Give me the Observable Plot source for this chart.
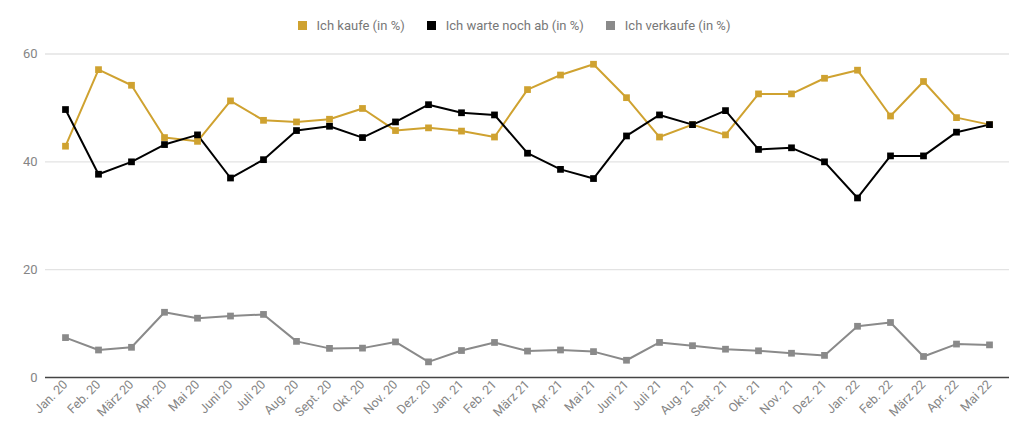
<!DOCTYPE html>
<html>
<head>
<meta charset="utf-8">
<script src="https://cdn.jsdelivr.net/npm/d3@7"></script>
<script src="https://cdn.jsdelivr.net/npm/@observablehq/plot@0.6"></script>
<style>
  html, body { margin: 0; padding: 0; background: #fff; }
  body { width: 1024px; height: 438px; overflow: hidden; font-family: Roboto, "Noto Sans", sans-serif; }
  #legend { height: 40px; display: flex; justify-content: center; align-items: center; gap: 22px; font-size: 13px; color: #777; padding-top: 10px; box-sizing: border-box; padding-left: 4px; }
  #legend .item { display: flex; align-items: center; gap: 10px; }
  #legend .sw { width: 9px; height: 9px; display: inline-block; }
</style>
</head>
<body>
<div id="legend"></div>
<div id="chart"></div>
<script>
const months = ["Jan. 20","Feb. 20","März 20","Apr. 20","Mai 20","Juni 20","Juli 20","Aug. 20","Sept. 20","Okt. 20","Nov. 20","Dez. 20",
  "Jan. 21","Feb. 21","März 21","Apr. 21","Mai 21","Juni 21","Juli 21","Aug. 21","Sept. 21","Okt. 21","Nov. 21","Dez. 21",
  "Jan. 22","Feb. 22","März 22","Apr. 22","Mai 22"];
const kaufe = [42.9,57.1,54.2,44.5,43.8,51.3,47.7,47.4,47.9,49.9,45.8,46.3,45.7,44.6,53.4,56.1,58.1,51.9,44.6,46.9,45.0,52.6,52.6,55.5,57.0,48.5,54.9,48.2,46.9];
const warte = [49.7,37.7,40.0,43.2,45.0,37.0,40.4,45.8,46.6,44.5,47.4,50.6,49.1,48.7,41.6,38.6,36.9,44.8,48.7,46.9,49.5,42.3,42.6,40.0,33.3,41.1,41.1,45.5,46.9];
const verkaufe = [7.4,5.1,5.6,12.1,11.0,11.4,11.7,6.7,5.4,5.45,6.6,2.9,5.0,6.5,4.9,5.1,4.8,3.2,6.5,5.9,5.25,4.95,4.5,4.1,9.5,10.2,3.9,6.2,6.05];
const seriesNames = ["Ich kaufe (in %)","Ich warte noch ab (in %)","Ich verkaufe (in %)"];
const seriesColors = ["#cfa230","#000000","#8a8a8a"];
const yTicks = [0,20,40,60];

const seriesValues = [kaufe, warte, verkaufe];
const data = seriesNames.flatMap((s, i) => months.map((m, j) => ({series: s, month: m, value: seriesValues[i][j]})));

// legend
const legend = document.getElementById("legend");
seriesNames.forEach((s, i) => {
  const it = document.createElement("span");
  it.className = "item";
  it.innerHTML = `<span class="sw" style="background:${seriesColors[i]}"></span><span>${s}</span>`;
  legend.appendChild(it);
});

const chart = Plot.plot({
  width: 1024,
  height: 398,
  marginTop: 13.5,
  marginBottom: 61,
  marginLeft: 45,
  marginRight: 15,
  style: {fontFamily: "Roboto, 'Noto Sans', sans-serif", background: "#fff"},
  x: {type: "point", domain: months, padding: 0.48, label: null},
  y: {domain: [0, 60], label: null},
  color: {domain: seriesNames, range: seriesColors},
  marks: [
    Plot.gridY(yTicks.filter(d => d !== 0), {stroke: "#e3e3e3", strokeOpacity: 1, strokeWidth: 1.3}),
    Plot.ruleY([0], {stroke: "#444", strokeWidth: 1.3}),
    Plot.axisY(yTicks, {tickSize: 0, tickPadding: 8, fill: "#858585", fontSize: 13, label: null}),
    Plot.axisX(months, {tickSize: 0, tickPadding: 5, tickRotate: -45, fill: "#858585", fontSize: 12.5, label: null}),
    Plot.line(data, {x: "month", y: "value", z: "series", stroke: "series", strokeWidth: 2}),
    Plot.dot(data, {x: "month", y: "value", fill: "series", symbol: "square", r: 3.8})
  ]
});
document.getElementById("chart").appendChild(chart);
</script>
</body>
</html>
